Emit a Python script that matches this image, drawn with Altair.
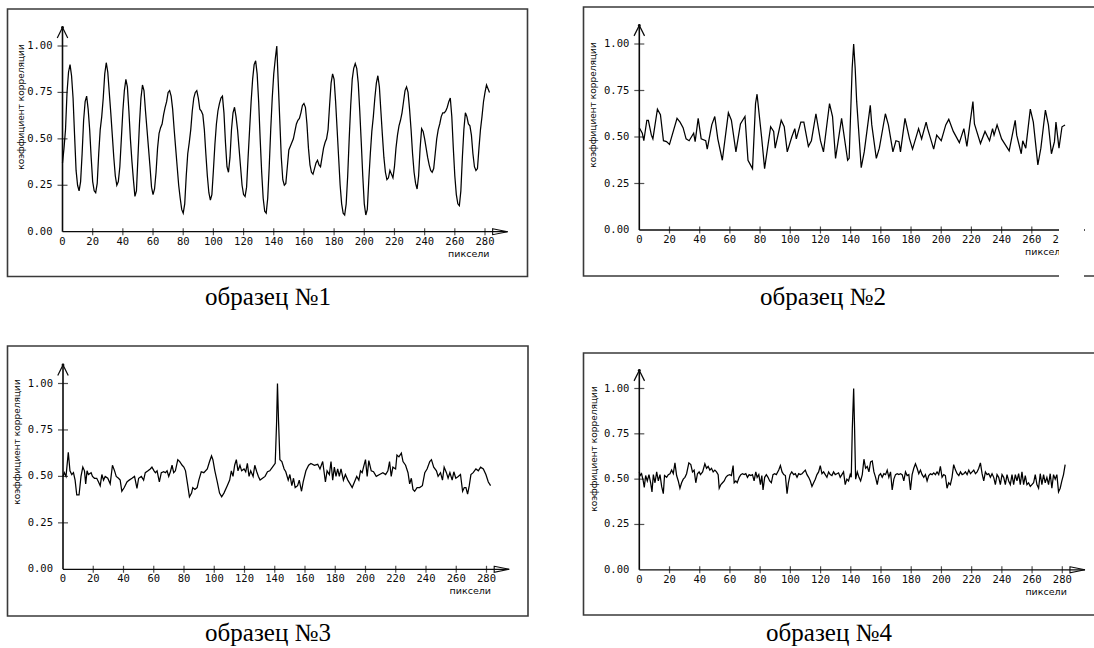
import altair as alt
import pandas as pd

# ---------------- data ----------------
S1_Y = [0.37, 0.45, 0.55, 0.75, 0.86, 0.90, 0.84, 0.72, 0.52, 0.33,
        0.25, 0.22, 0.27, 0.42, 0.60, 0.70, 0.73, 0.66, 0.55, 0.40,
        0.27, 0.22, 0.21, 0.26, 0.42, 0.55, 0.62, 0.72, 0.85, 0.91,
        0.86, 0.75, 0.64, 0.52, 0.40, 0.30, 0.25, 0.27, 0.35, 0.50,
        0.65, 0.76, 0.82, 0.78, 0.65, 0.50, 0.38, 0.28, 0.19, 0.22,
        0.40, 0.58, 0.72, 0.79, 0.76, 0.65, 0.55, 0.45, 0.35, 0.24,
        0.20, 0.23, 0.32, 0.45, 0.53, 0.56, 0.58, 0.63, 0.67, 0.70,
        0.75, 0.76, 0.73, 0.66, 0.55, 0.45, 0.35, 0.25, 0.18, 0.12,
        0.10, 0.15, 0.30, 0.42, 0.48, 0.55, 0.65, 0.72, 0.75, 0.76,
        0.72, 0.66, 0.65, 0.63, 0.55, 0.42, 0.30, 0.21, 0.17, 0.20,
        0.33, 0.47, 0.58, 0.65, 0.69, 0.72, 0.73, 0.64, 0.48, 0.35,
        0.32, 0.40, 0.55, 0.64, 0.67, 0.62, 0.55, 0.45, 0.35, 0.25,
        0.20, 0.19, 0.24, 0.40, 0.55, 0.70, 0.82, 0.90, 0.92, 0.85,
        0.70, 0.50, 0.32, 0.18, 0.11, 0.10, 0.18, 0.35, 0.55, 0.72,
        0.85, 0.93, 1.00, 0.80, 0.60, 0.40, 0.28, 0.25, 0.26, 0.35,
        0.44, 0.46, 0.48, 0.50, 0.54, 0.58, 0.60, 0.61, 0.64, 0.68,
        0.69, 0.67, 0.58, 0.45, 0.36, 0.32, 0.31, 0.34, 0.37, 0.385,
        0.36, 0.35, 0.40, 0.45, 0.48, 0.50, 0.55, 0.68, 0.80, 0.85,
        0.82, 0.70, 0.55, 0.40, 0.25, 0.15, 0.10, 0.09, 0.15, 0.30,
        0.50, 0.68, 0.82, 0.88, 0.905, 0.88, 0.80, 0.65, 0.48, 0.30,
        0.15, 0.09, 0.12, 0.28, 0.42, 0.54, 0.62, 0.72, 0.80, 0.84,
        0.78, 0.65, 0.52, 0.40, 0.32, 0.28, 0.29, 0.33, 0.31, 0.29,
        0.35, 0.45, 0.52, 0.57, 0.60, 0.64, 0.70, 0.76, 0.78, 0.75,
        0.66, 0.55, 0.42, 0.32, 0.26, 0.23, 0.30, 0.45, 0.555, 0.54,
        0.50, 0.45, 0.40, 0.36, 0.33, 0.32, 0.34, 0.42, 0.50, 0.55,
        0.58, 0.62, 0.64, 0.64, 0.65, 0.67, 0.70, 0.72, 0.62, 0.45,
        0.30, 0.20, 0.15, 0.14, 0.22, 0.40, 0.55, 0.64, 0.62, 0.58,
        0.57, 0.52, 0.42, 0.35, 0.33, 0.34, 0.45, 0.55, 0.62, 0.70,
        0.75, 0.79, 0.77, 0.75]
S1_X = list(range(len(S1_Y)))

S2_X = [0, 2, 3, 5, 6, 8, 9, 12, 14, 16, 18, 20, 25, 27, 29, 31, 33, 36, 37, 39,
        41, 44, 45, 48, 50, 52, 55, 59, 61, 64, 67, 70, 72, 75, 77, 78, 81, 83, 87, 89,
        90, 94, 96, 98, 101, 103, 104, 107, 109, 112, 114, 117, 120, 122, 126, 128, 130, 134, 138, 139,
        141, 142, 143, 144, 147, 149, 153, 154, 157, 159, 163, 165, 168, 170, 172, 173, 176, 179, 181, 185,
        187, 190, 191, 195, 197, 200, 203, 205, 208, 212, 215, 217, 221, 222, 226, 229, 232, 234, 235, 237,
        240, 245, 249, 250, 253, 254, 256, 259, 261, 264, 266, 269, 271, 273, 275, 276, 278, 280, 282]
S2_Y = [0.55, 0.52, 0.48, 0.59, 0.59, 0.51, 0.49, 0.65, 0.62, 0.48, 0.475, 0.46, 0.60, 0.58, 0.55, 0.49, 0.48, 0.52, 0.475, 0.60,
        0.49, 0.48, 0.435, 0.565, 0.61, 0.49, 0.375, 0.63, 0.59, 0.42, 0.57, 0.61, 0.375, 0.33, 0.68, 0.73, 0.50, 0.33, 0.555, 0.53,
        0.44, 0.59, 0.555, 0.42, 0.50, 0.545, 0.49, 0.58, 0.58, 0.45, 0.48, 0.625, 0.48, 0.42, 0.68, 0.61, 0.385, 0.60, 0.375, 0.385,
        0.87, 1.00, 0.87, 0.69, 0.335, 0.42, 0.67, 0.565, 0.385, 0.44, 0.625, 0.565, 0.42, 0.48, 0.475, 0.42, 0.60, 0.49, 0.435, 0.545,
        0.49, 0.58, 0.545, 0.435, 0.51, 0.48, 0.565, 0.595, 0.53, 0.47, 0.545, 0.45, 0.69, 0.57, 0.465, 0.53, 0.48, 0.545, 0.51, 0.565,
        0.49, 0.425, 0.59, 0.51, 0.41, 0.48, 0.44, 0.65, 0.58, 0.35, 0.44, 0.645, 0.565, 0.41, 0.475, 0.58, 0.44, 0.555, 0.565]

S3_X = [0.0, 0.9, 2.0, 3.5, 4.6, 5.8, 6.9, 8.0, 9.1, 10.6, 11.9, 13.1, 14.2, 15.0, 15.9, 16.8, 18.6, 19.5, 20.8, 22.3,
        23.5, 24.6, 25.7, 26.8, 27.9, 29.6, 31.2, 32.7, 34.1, 35.2, 36.7, 37.8, 38.9, 40.5, 42.3, 43.8, 45.6, 47.3, 48.9, 50.0,
        51.8, 53.3, 54.4, 56.2, 57.7, 58.8, 60.2, 61.1, 62.2, 63.7, 65.0, 66.6, 67.7, 68.8, 69.9, 71.0, 72.1, 73.2, 74.3, 75.9,
        77.2, 78.8, 79.9, 81.0, 82.5, 83.6, 85.0, 85.8, 87.2, 88.7, 89.8, 91.4, 93.1, 95.4, 96.9, 98.2, 99.1, 100.4, 102.0, 103.5,
        104.9, 106.4, 108.6, 110.2, 111.3, 112.4, 113.5, 114.6, 115.7, 117.0, 118.1, 119.7, 120.8, 121.9, 123.0, 124.1, 125.7, 126.8, 128.1, 129.2,
        130.3, 131.9, 133.6, 135.2, 136.7, 138.5, 140.3, 141.2, 141.8, 142.5, 143.4, 144.7, 146.2, 147.3, 148.9, 150.0, 151.3, 152.4, 153.5, 155.1,
        156.2, 157.7, 158.8, 160.6, 162.4, 163.9, 166.2, 168.4, 169.9, 171.7, 173.5, 174.6, 176.1, 177.2, 178.3, 179.4, 180.5, 181.6, 182.7, 183.8,
        185.4, 186.7, 188.3, 189.8, 191.2, 192.7, 194.2, 195.6, 196.7, 197.8, 198.7, 200.0, 201.1, 202.2, 203.8, 205.3, 207.1, 209.3, 211.5, 213.3,
        214.8, 215.9, 217.0, 218.1, 219.9, 220.8, 222.1, 223.7, 224.8, 226.5, 228.1, 229.2, 230.3, 231.4, 232.5, 234.1, 235.8, 237.6, 239.2, 240.7,
        242.5, 243.6, 245.1, 246.9, 248.0, 249.6, 250.9, 252.0, 253.5, 254.6, 255.8, 257.3, 258.4, 259.7, 261.3, 262.8, 264.2, 265.3, 266.4, 267.5,
        268.6, 269.7, 271.2, 273.0, 274.6, 276.1, 277.9, 279.6, 281.2, 282.7]
S3_Y = [0.50, 0.52, 0.50, 0.63, 0.53, 0.51, 0.52, 0.48, 0.40, 0.40, 0.50, 0.55, 0.53, 0.46, 0.53, 0.51, 0.52, 0.50, 0.49, 0.49,
        0.47, 0.45, 0.51, 0.48, 0.50, 0.49, 0.46, 0.56, 0.53, 0.50, 0.49, 0.48, 0.42, 0.44, 0.47, 0.48, 0.49, 0.50, 0.435, 0.49,
        0.50, 0.48, 0.52, 0.53, 0.54, 0.55, 0.53, 0.52, 0.53, 0.47, 0.52, 0.525, 0.52, 0.53, 0.50, 0.525, 0.56, 0.52, 0.53, 0.59,
        0.58, 0.56, 0.55, 0.53, 0.45, 0.39, 0.41, 0.44, 0.43, 0.44, 0.48, 0.525, 0.52, 0.54, 0.58, 0.61, 0.59, 0.53, 0.47, 0.41,
        0.39, 0.41, 0.45, 0.48, 0.53, 0.50, 0.56, 0.59, 0.53, 0.56, 0.53, 0.54, 0.525, 0.57, 0.50, 0.53, 0.50, 0.56, 0.525, 0.50,
        0.48, 0.49, 0.50, 0.525, 0.53, 0.55, 0.57, 0.785, 1.00, 0.80, 0.59, 0.58, 0.54, 0.525, 0.48, 0.51, 0.45, 0.49, 0.44, 0.45,
        0.48, 0.42, 0.47, 0.53, 0.56, 0.57, 0.56, 0.565, 0.54, 0.58, 0.47, 0.53, 0.51, 0.58, 0.48, 0.55, 0.50, 0.54, 0.50, 0.54,
        0.48, 0.51, 0.48, 0.46, 0.44, 0.47, 0.50, 0.48, 0.53, 0.52, 0.55, 0.59, 0.50, 0.585, 0.53, 0.525, 0.50, 0.51, 0.52, 0.51,
        0.53, 0.58, 0.50, 0.55, 0.54, 0.615, 0.605, 0.625, 0.58, 0.56, 0.52, 0.46, 0.49, 0.43, 0.42, 0.44, 0.44, 0.45, 0.52, 0.54,
        0.58, 0.59, 0.55, 0.53, 0.50, 0.52, 0.48, 0.55, 0.52, 0.49, 0.52, 0.48, 0.525, 0.49, 0.50, 0.51, 0.42, 0.44, 0.44, 0.405,
        0.45, 0.51, 0.52, 0.54, 0.53, 0.55, 0.54, 0.51, 0.47, 0.45]

S4_X = [0.0, 0.6, 1.5, 2.6, 3.3, 4.2, 5.3, 6.4, 7.5, 8.4, 9.3, 10.4, 11.5, 12.6, 13.7, 14.8, 15.9, 16.7, 18.1, 19.2,
        20.3, 21.4, 22.5, 23.6, 24.7, 25.8, 26.9, 28.0, 29.1, 30.2, 31.3, 32.8, 34.1, 35.2, 36.3, 37.4, 38.5, 39.6, 40.5, 41.9,
        43.4, 44.5, 45.6, 46.7, 47.8, 48.9, 50.0, 51.1, 52.2, 52.9, 54.0, 55.1, 56.2, 57.3, 58.4, 59.9, 61.0, 62.1, 62.8, 63.9,
        64.8, 66.1, 67.2, 68.3, 69.4, 70.5, 71.6, 72.7, 73.8, 74.9, 76.0, 77.1, 78.0, 79.1, 80.2, 81.1, 81.9, 83.0, 84.1, 85.2,
        86.3, 87.4, 88.5, 89.6, 90.7, 92.3, 93.4, 94.5, 95.6, 96.7, 97.8, 98.7, 99.8, 100.9, 102.2, 103.3, 104.4, 105.5, 106.6, 107.7,
        108.8, 109.9, 111.0, 112.1, 113.2, 114.3, 115.4, 116.5, 117.6, 118.7, 119.8, 120.9, 122.0, 123.1, 124.2, 125.3, 126.4, 127.5, 128.6, 129.7,
        130.8, 131.9, 133.0, 134.1, 135.2, 136.3, 137.4, 138.5, 139.6, 140.3, 141.0, 141.9, 142.5, 143.2, 144.3, 145.4, 146.5, 147.6, 148.7, 149.8,
        150.9, 152.0, 153.1, 154.2, 155.3, 156.4, 157.5, 158.6, 159.7, 160.8, 161.9, 163.0, 164.1, 165.2, 166.3, 167.4, 168.5, 169.6, 170.7, 171.8,
        172.9, 174.0, 175.1, 176.2, 177.3, 178.4, 179.5, 180.6, 181.7, 182.8, 183.9, 185.0, 186.1, 187.2, 188.3, 189.4, 190.5, 191.6, 192.7, 193.8,
        194.9, 196.0, 197.1, 198.2, 199.3, 200.4, 201.5, 202.6, 203.7, 204.8, 205.9, 207.0, 208.1, 209.3, 210.4, 211.5, 212.6, 213.7, 214.8, 215.9,
        217.0, 218.1, 219.2, 220.3, 221.4, 222.5, 223.6, 224.7, 225.8, 226.9, 228.0, 229.1, 230.2, 231.3, 232.4, 233.5, 234.6, 235.7, 236.8, 237.9,
        239.0, 240.1, 241.2, 242.3, 243.4, 244.5, 245.6, 246.7, 247.8, 248.9, 250.0, 251.1, 252.2, 253.3, 254.4, 255.5, 256.6, 257.7, 258.8, 259.9,
        261.0, 262.1, 263.2, 264.3, 265.4, 266.5, 267.6, 268.7, 269.8, 270.9, 272.0, 273.1, 274.2, 275.3, 276.4, 277.5, 278.6, 279.7, 280.8, 281.9]
S4_Y = [0.54, 0.52, 0.53, 0.49, 0.455, 0.52, 0.49, 0.525, 0.48, 0.43, 0.525, 0.48, 0.54, 0.49, 0.525, 0.46, 0.42, 0.52, 0.51, 0.525,
        0.53, 0.55, 0.53, 0.59, 0.52, 0.49, 0.45, 0.48, 0.50, 0.51, 0.53, 0.59, 0.58, 0.54, 0.55, 0.48, 0.53, 0.54, 0.525, 0.54,
        0.585, 0.56, 0.57, 0.55, 0.56, 0.54, 0.55, 0.54, 0.525, 0.45, 0.47, 0.48, 0.49, 0.51, 0.52, 0.525, 0.52, 0.575, 0.48, 0.49,
        0.48, 0.51, 0.525, 0.53, 0.525, 0.53, 0.51, 0.525, 0.52, 0.525, 0.49, 0.54, 0.51, 0.525, 0.47, 0.52, 0.44, 0.51, 0.525, 0.51,
        0.49, 0.48, 0.525, 0.53, 0.525, 0.55, 0.575, 0.54, 0.525, 0.52, 0.42, 0.48, 0.525, 0.54, 0.525, 0.53, 0.51, 0.53, 0.525, 0.53,
        0.54, 0.55, 0.525, 0.51, 0.49, 0.46, 0.48, 0.50, 0.525, 0.54, 0.575, 0.53, 0.54, 0.525, 0.51, 0.54, 0.525, 0.52, 0.54, 0.525,
        0.53, 0.535, 0.51, 0.525, 0.54, 0.47, 0.50, 0.49, 0.525, 0.51, 0.78, 1.00, 0.78, 0.50, 0.54, 0.51, 0.49, 0.525, 0.61, 0.56,
        0.57, 0.54, 0.595, 0.60, 0.54, 0.51, 0.47, 0.52, 0.53, 0.51, 0.53, 0.525, 0.55, 0.51, 0.54, 0.44, 0.50, 0.525, 0.53, 0.525,
        0.53, 0.525, 0.49, 0.54, 0.52, 0.525, 0.44, 0.525, 0.56, 0.585, 0.56, 0.53, 0.55, 0.525, 0.51, 0.525, 0.49, 0.52, 0.53, 0.525,
        0.535, 0.525, 0.54, 0.525, 0.57, 0.51, 0.525, 0.52, 0.45, 0.48, 0.47, 0.51, 0.58, 0.55, 0.53, 0.52, 0.54, 0.525, 0.53, 0.54,
        0.525, 0.55, 0.53, 0.54, 0.55, 0.53, 0.54, 0.56, 0.59, 0.53, 0.49, 0.54, 0.525, 0.53, 0.51, 0.53, 0.51, 0.47, 0.525, 0.51,
        0.47, 0.525, 0.51, 0.47, 0.525, 0.49, 0.47, 0.525, 0.47, 0.525, 0.49, 0.53, 0.47, 0.54, 0.47, 0.52, 0.47, 0.48, 0.46, 0.47,
        0.48, 0.525, 0.47, 0.45, 0.53, 0.47, 0.525, 0.48, 0.51, 0.47, 0.53, 0.45, 0.525, 0.50, 0.525, 0.43, 0.45, 0.49, 0.525, 0.58]

SERIES = [(S1_X, S1_Y), (S2_X, S2_Y), (S3_X, S3_Y), (S4_X, S4_Y)]

X_TICKS = [20, 40, 60, 80, 100, 120, 140, 160, 180, 200, 220, 240, 260, 280]
X_LABELS = [0, 20, 40, 60, 80, 100, 120, 140, 160, 180, 200, 220, 240, 260, 280]
Y_TICKS = [0.25, 0.50, 0.75, 1.00]
Y_LABELS = [0.00, 0.25, 0.50, 0.75, 1.00]
CAPTIONS = ["образец №1", "образец №2", "образец №3", "образец №4"]
Y_TITLE = "коэффициент корреляции"
X_TITLE = "пиксели"

# ---------------- layout (pixels) ----------------
X_END = 295      # x-axis arrow tip, in axis units
Y_END = 1.10     # y-axis arrow tip, in axis units
PANELS = [
    {"xr": [62.5, 485.0], "yr": [231.7, 46.0], "box": [7.5, 527.5, 9.0, 276.5], "ytitle": [21, 107], "caption": [268, 305]},
    {"xr": [639.3, 1062.0], "yr": [230.0, 44.0], "box": [583.5, 1100, 7.0, 276.0], "ytitle": [593, 105], "caption": [823, 305]},
    {"xr": [63.0, 486.5], "yr": [569.3, 383.5], "box": [7.5, 528.0, 346.0, 616.0], "ytitle": [17, 442], "caption": [268, 641]},
    {"xr": [639.3, 1062.3], "yr": [569.8, 388.5], "box": [583.5, 1100, 353.0, 615.0], "ytitle": [594, 449], "caption": [829, 641]},
]
# blank strip where the scanned second panel is cut off
SCAN_CUT = [1059, 1084, 224, 292]

LABEL_FONT = "DejaVu Sans Mono"
TITLE_FONT = "DejaVu Sans"
CAPTION_FONT = "Liberation Serif"
INK = "#0a0a0a"

ONE = pd.DataFrame({"k": [0]})


def xenc(field, p):
    return alt.X(field, type="quantitative",
                 scale=alt.Scale(domain=[0, 280], range=p["xr"], nice=False, zero=False),
                 axis=None)


def yenc(field, p):
    return alt.Y(field, type="quantitative",
                 scale=alt.Scale(domain=[0, 1], range=p["yr"], nice=False, zero=False),
                 axis=None)


layers = []
for i, p in enumerate(PANELS):
    sx, sy = SERIES[i]
    line_df = pd.DataFrame([{"x": a, "y": b} for a, b in zip(sx, sy)])
    b = p["box"]

    # frame
    layers.append(alt.Chart(ONE).mark_rect(fillOpacity=0, stroke="#3a3a3a", strokeWidth=1.6).encode(
        x=alt.value(b[0]), x2=alt.value(b[1]), y=alt.value(b[2]), y2=alt.value(b[3])))

    # axis lines
    xaxis_df = pd.DataFrame({"x": [0], "x2": [X_END], "y": [0]})
    layers.append(alt.Chart(xaxis_df).mark_rule(color=INK, strokeWidth=1.3).encode(
        x=xenc("x", p), x2="x2:Q", y=yenc("y", p)))
    yaxis_df = pd.DataFrame({"x": [0], "y": [0], "y2": [Y_END]})
    layers.append(alt.Chart(yaxis_df).mark_rule(color=INK, strokeWidth=1.6).encode(
        x=xenc("x", p), y=yenc("y", p), y2="y2:Q"))

    # ticks
    xt_df = pd.DataFrame({"x": X_TICKS, "y": [0] * len(X_TICKS)})
    layers.append(alt.Chart(xt_df).mark_tick(orient="vertical", size=7, thickness=1.2, color=INK).encode(
        x=xenc("x", p), y=yenc("y", p)))
    yt_df = pd.DataFrame({"x": [0] * len(Y_TICKS), "y": Y_TICKS})
    layers.append(alt.Chart(yt_df).mark_tick(orient="horizontal", size=10, thickness=1.2, color=INK).encode(
        x=xenc("x", p), y=yenc("y", p)))

    # tick labels
    xl_df = pd.DataFrame({"x": X_LABELS, "y": [0] * len(X_LABELS), "t": [str(v) for v in X_LABELS]})
    layers.append(alt.Chart(xl_df).mark_text(dy=10, align="center", baseline="middle", font=LABEL_FONT,
                                             fontSize=10.5, color=INK).encode(
        x=xenc("x", p), y=yenc("y", p), text="t:N"))
    yl_df = pd.DataFrame({"x": [0] * len(Y_LABELS), "y": Y_LABELS, "t": [f"{v:.2f}" for v in Y_LABELS]})
    layers.append(alt.Chart(yl_df).mark_text(dx=-10, align="right", baseline="middle", font=LABEL_FONT,
                                             fontSize=10.5, color=INK).encode(
        x=xenc("x", p), y=yenc("y", p), text="t:N"))

    # arrow heads
    ya_df = pd.DataFrame({"x": [0], "y": [Y_END]})
    layers.append(alt.Chart(ya_df).mark_point(shape="M -1 2 L 0 0 L 1 2", size=110, filled=False,
                                              strokeWidth=1.2, color=INK, opacity=1).encode(
        x=xenc("x", p), y=yenc("y", p)))
    layers.append(alt.Chart(ya_df).mark_point(shape="circle", size=8, filled=True,
                                              color=INK, opacity=1).encode(
        x=xenc("x", p), y=yenc("y", p)))
    xa_df = pd.DataFrame({"x": [X_END], "y": [0]})
    layers.append(alt.Chart(xa_df).mark_point(shape="M -5 -1 L 0 0 L -5 1 Z", size=36, filled=False,
                                              strokeWidth=1.1, color=INK, opacity=1).encode(
        x=xenc("x", p), y=yenc("y", p)))

    # correlation curve
    layers.append(alt.Chart(line_df).mark_line(color="#000000", strokeWidth=1.25).encode(
        x=xenc("x", p), y=yenc("y", p)))

    # x title
    xtl_df = pd.DataFrame({"x": [283], "y": [0], "t": [X_TITLE]})
    layers.append(alt.Chart(xtl_df).mark_text(dy=22, align="right", baseline="middle", font=TITLE_FONT,
                                              fontSize=9.5, color=INK).encode(
        x=xenc("x", p), y=yenc("y", p), text="t:N"))

    # y title
    layers.append(alt.Chart(ONE).mark_text(angle=270, align="center", baseline="middle", font=TITLE_FONT,
                                           fontSize=9, color=INK).encode(
        x=alt.value(p["ytitle"][0]), y=alt.value(p["ytitle"][1]), text=alt.value(Y_TITLE)))

    # caption
    layers.append(alt.Chart(ONE).mark_text(align="center", baseline="alphabetic", font=CAPTION_FONT,
                                           fontSize=25, color="#000000").encode(
        x=alt.value(p["caption"][0]), y=alt.value(p["caption"][1]), text=alt.value(CAPTIONS[i])))

# scan cut-off of the second panel
layers.append(alt.Chart(ONE).mark_rect(fill="white", stroke=None if False else "white", strokeWidth=0).encode(
    x=alt.value(SCAN_CUT[0]), x2=alt.value(SCAN_CUT[1]), y=alt.value(SCAN_CUT[2]), y2=alt.value(SCAN_CUT[3])))

chart = alt.layer(*layers).resolve_scale(x="independent", y="independent").properties(
    width=1094, height=648, padding=0, background="white",
    autosize=alt.AutoSizeParams(type="none"),
).configure_view(stroke=None)

chart.save("out.html", embed_options={"renderer": "svg", "actions": False})
